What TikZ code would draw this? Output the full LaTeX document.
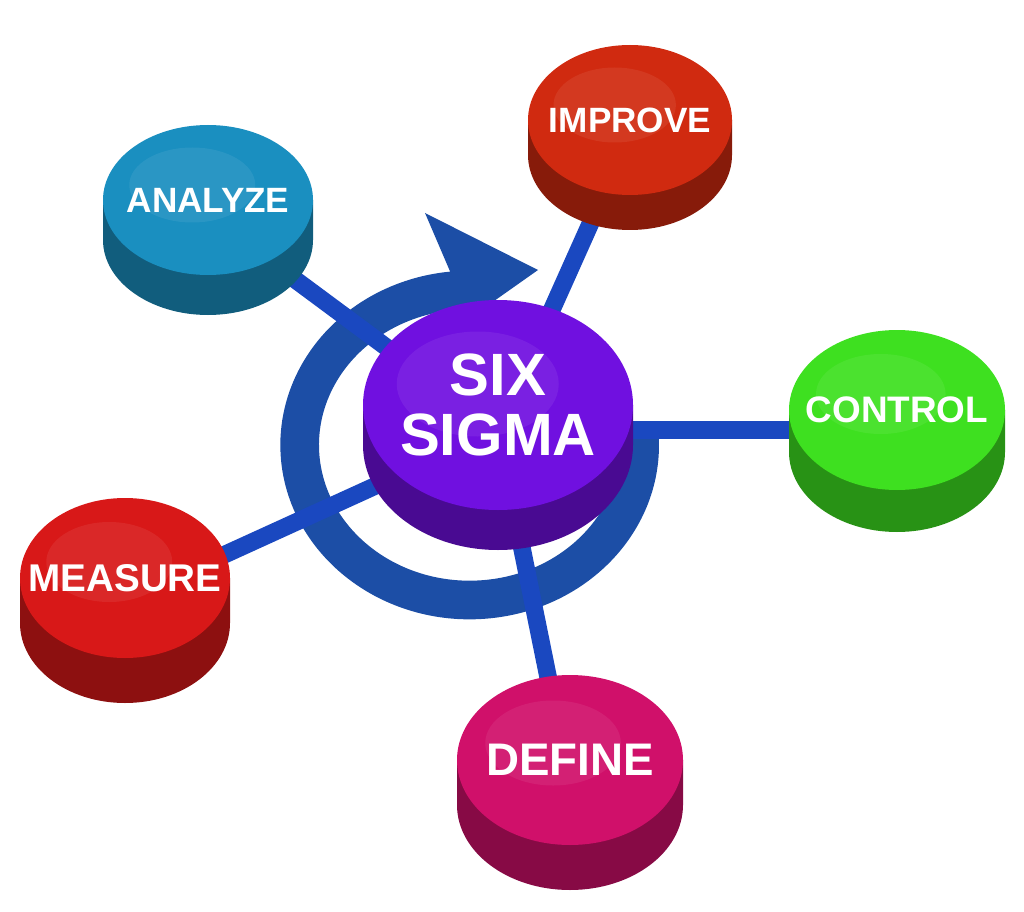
\documentclass[tikz,border=0pt]{standalone}
\usepackage{fontspec}
\setmainfont{Liberation Sans}
\usepackage{xcolor}
\definecolor{ringblue}{HTML}{1C4EA6}
\definecolor{linkblue}{HTML}{1A48C0}
\definecolor{cyanblue}{HTML}{1A8FC0}
\definecolor{impred}{HTML}{D02A10}
\definecolor{ctrlgreen}{HTML}{3EE020}
\definecolor{measred}{HTML}{D81818}
\definecolor{defmag}{HTML}{D0106A}
\definecolor{sigpurple}{HTML}{7010E0}
\newcommand{\disk}[9]{% x, y, rx, ry, height, colour, name, text, font size
  \fill[#6!65!black] (#1-#3,#2) -- (#1-#3,#2+#5)
    arc[start angle=180,end angle=0,x radius=#3,y radius=#4] -- (#1+#3,#2) -- cycle;
  \fill[#6] (#1,#2) ellipse [x radius=#3, y radius=#4];
  \fill[#6!80!white,opacity=0.35] (#1-0.15*#3,#2-0.2*#4) ellipse [x radius=0.6*#3, y radius=0.5*#4];
  \node[disktext, font=\fontsize{#9}{#9}\selectfont\bfseries] (#7) at (#1,#2) {#8};
}
\begin{document}
\begin{tikzpicture}[x=0.02cm, y=-0.02cm,
    disktext/.style={text=white, align=center},
    link/.style={linkblue, line width=10pt},
    ring/.style={ringblue, line width=22pt}
]
    \useasboundingbox (0,0) rectangle (1024,912);
    % centres
    \coordinate (c-sigma) at (498,430);
    \coordinate (c-analyze) at (208,215);
    \coordinate (c-improve) at (630,135);
    \coordinate (c-control) at (897,430);
    \coordinate (c-measure) at (125,600);
    \coordinate (c-define) at (570,785);
    % circular arrow
    \draw[ring] (639,431.5) arc[start angle=-5, end angle=275, x radius=170, y radius=155];
    \fill[ringblue] (425,213) -- (538,270) -- (470,318) -- cycle;
    % links
    \foreach \n in {analyze,improve,control,measure,define}
        \draw[link] (c-sigma) -- (c-\n);
    % disks
    \disk{208}{200}{105}{75}{40}{cyanblue}{analyze}{ANALYZE}{20}
    \disk{630}{120}{102}{75}{35}{impred}{improve}{IMPROVE}{20}
    \disk{897}{410}{108}{80}{42}{ctrlgreen}{control}{CONTROL}{21}
    \disk{125}{578}{105}{80}{45}{measred}{measure}{MEASURE}{22}
    \disk{570}{760}{113}{85}{45}{defmag}{define}{DEFINE}{26}
    \disk{498}{405}{135}{105}{40}{sigpurple}{sigma}{SIX\\SIGMA}{34}
\end{tikzpicture}
\end{document}
